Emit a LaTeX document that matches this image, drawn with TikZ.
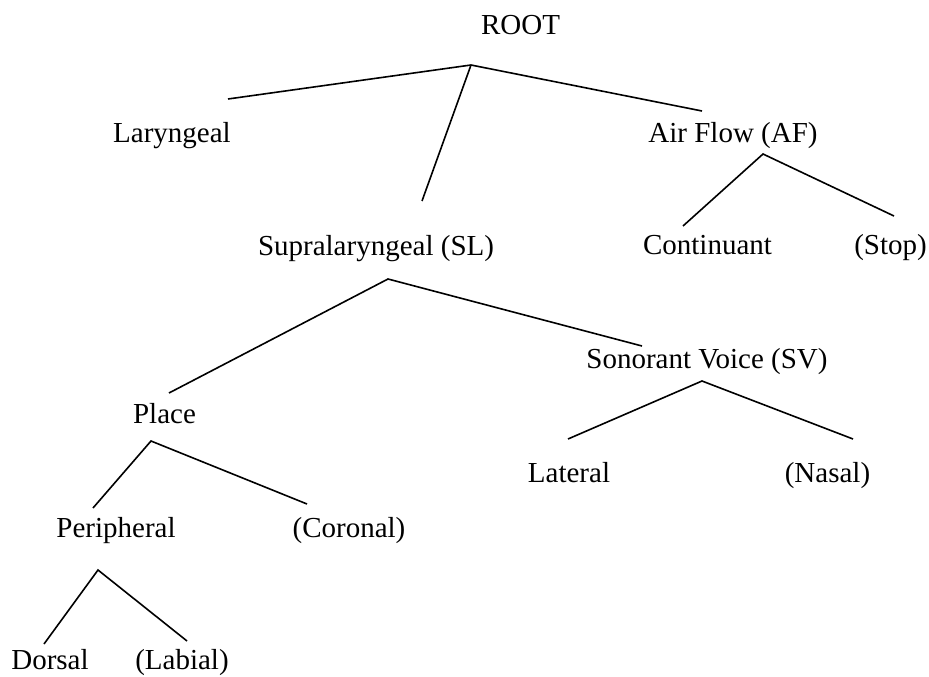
\documentclass[tikz,border=0pt]{standalone}
\usepackage{fontspec}
\setmainfont{Liberation Serif}
\begin{document}
\begin{tikzpicture}[x=1pt,y=-1pt,
  lbl/.style={inner sep=0pt,anchor=base,font=\fontsize{29}{34}\selectfont},
  edge/.style={line width=1.6pt,line cap=butt,line join=miter}]
\useasboundingbox (0,0) rectangle (929,677);
% labels
\node[lbl] (root) at (520.5,35) {ROOT};
\node[lbl] (lar) at (172,142) {Laryngeal};
\node[lbl] (af) at (733,142) {Air Flow (AF)};
\node[lbl] (sl) at (376,255) {Supralaryngeal (SL)};
\node[lbl] (cont) at (707.5,254) {Continuant};
\node[lbl] (stop) at (890.5,254) {(Stop)};
\node[lbl] (sv) at (707,368) {Sonorant Voice (SV)};
\node[lbl] (place) at (164.5,423) {Place};
\node[lbl] (lat) at (569,482) {Lateral};
\node[lbl] (nas) at (827.5,482) {(Nasal)};
\node[lbl] (per) at (116,537) {Peripheral};
\node[lbl] (cor) at (349,537) {(Coronal)};
\node[lbl] (dor) at (50,669.5) {Dorsal};
\node[lbl] (lab) at (182,669.5) {(Labial)};
% branch points
\coordinate (root-j) at (471,65);
\coordinate (lar-t) at (228,99);
\coordinate (sl-t) at (422,201);
\coordinate (af-t) at (702,111);
\coordinate (af-j) at (763,154);
\coordinate (cont-t) at (683,226);
\coordinate (stop-t) at (894,216);
\coordinate (sl-j) at (388,279);
\coordinate (place-t) at (169,393);
\coordinate (sv-t) at (642,346);
\coordinate (sv-j) at (702,381);
\coordinate (lat-t) at (568,439);
\coordinate (nas-t) at (853,439);
\coordinate (place-j) at (151,441);
\coordinate (per-t) at (93,508);
\coordinate (cor-t) at (307,504);
\coordinate (per-j) at (98,570);
\coordinate (dor-t) at (44,644);
\coordinate (lab-t) at (187,641);
% connectors
\draw[edge] (lar-t) -- (root-j) -- (af-t);
\draw[edge] (root-j) -- (sl-t);
\draw[edge] (cont-t) -- (af-j) -- (stop-t);
\draw[edge] (place-t) -- (sl-j) -- (sv-t);
\draw[edge] (lat-t) -- (sv-j) -- (nas-t);
\draw[edge] (per-t) -- (place-j) -- (cor-t);
\draw[edge] (dor-t) -- (per-j) -- (lab-t);
\end{tikzpicture}
\end{document}
